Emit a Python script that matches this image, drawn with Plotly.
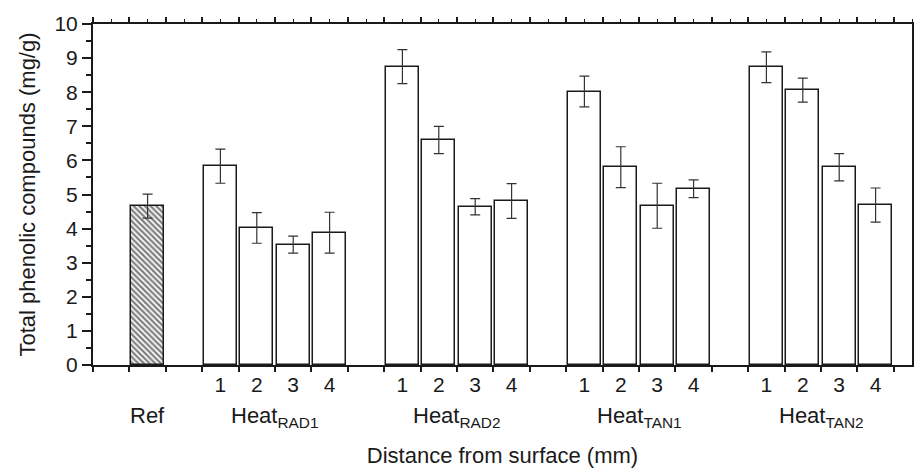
import plotly.graph_objects as go

GROUP_LABELS = ["Heat<sub>RAD1</sub>", "Heat<sub>RAD2</sub>", "Heat<sub>TAN1</sub>", "Heat<sub>TAN2</sub>"]
DISTANCES = ["1", "2", "3", "4"]

ref_value = 4.66
ref_error = 0.35

rad1_values = [5.83, 4.02, 3.53, 3.88]
rad1_errors = [0.50, 0.45, 0.25, 0.60]
rad2_values = [8.75, 6.60, 4.64, 4.81]
rad2_errors = [0.50, 0.40, 0.24, 0.51]
tan1_values = [8.02, 5.80, 4.67, 5.17]
tan1_errors = [0.45, 0.60, 0.66, 0.26]
tan2_values = [8.73, 8.06, 5.80, 4.69]
tan2_errors = [0.45, 0.35, 0.40, 0.50]

group_values = [rad1_values, rad2_values, tan1_values, tan2_values]
group_errors = [rad1_errors, rad2_errors, tan1_errors, tan2_errors]

FONT = "Liberation Sans, Arial, sans-serif"
INK = "#1a1a1a"

# slot layout: one empty slot, Ref, one empty slot, then groups of 4 separated by a slot
ref_x = 1.5
xs, ys, errs, tick_x, tick_text, centers = [], [], [], [], [], []
start = ref_x + 2
for vals, es in zip(group_values, group_errors):
    pos = [start + i for i in range(len(vals))]
    xs += pos
    ys += vals
    errs += es
    tick_x += pos
    tick_text += DISTANCES
    centers.append((pos[0] + pos[-1]) / 2)
    start = pos[-1] + 2
x_max = xs[-1] + 1

err_style = dict(type="data", thickness=1.2, width=5, color="#333")

fig = go.Figure()
fig.add_trace(go.Bar(
    x=[ref_x], y=[ref_value], width=0.9,
    error_y=dict(array=[ref_error], **err_style),
    marker=dict(color="white", line=dict(color=INK, width=1.5),
                pattern=dict(shape="\\", fgcolor="#000", bgcolor="white", size=4, solidity=0.55)),
    showlegend=False,
))
fig.add_trace(go.Bar(
    x=xs, y=ys, width=0.9,
    error_y=dict(array=errs, **err_style),
    marker=dict(color="white", line=dict(color=INK, width=1.5)),
    showlegend=False,
))
# dummy trace so the top tick axis is drawn
fig.add_trace(go.Scatter(x=[None], y=[None], xaxis="x2", showlegend=False, hoverinfo="skip"))

annotations = [dict(x=ref_x, y=0, xref="x", yref="paper", text="Ref", showarrow=False,
                    yanchor="top", yshift=-36, font=dict(size=22, color=INK, family=FONT))]
for c, lab in zip(centers, GROUP_LABELS):
    annotations.append(dict(x=c, y=0, xref="x", yref="paper", text=lab, showarrow=False,
                            yanchor="top", yshift=-36, font=dict(size=22, color=INK, family=FONT)))

# page body has an 8px margin, so the figure is 8px smaller than the window
fig.update_layout(
    width=914, height=460,
    margin=dict(l=85, r=10, t=16, b=103),
    plot_bgcolor="white", paper_bgcolor="white",
    font=dict(family=FONT, size=21, color=INK),
    bargap=0,
    annotations=annotations,
    xaxis=dict(
        range=[0, x_max], tickmode="array", tickvals=tick_x, ticktext=tick_text,
        ticks="", showgrid=False, zeroline=False, automargin=False,
        showline=True, linecolor=INK, linewidth=2,
        ticklabelstandoff=0,
        minor=dict(ticks="outside", tick0=0, dtick=1, ticklen=5, tickwidth=1.5, tickcolor=INK),
        title=dict(text="Distance from surface (mm)", font=dict(size=22), standoff=53),
    ),
    xaxis2=dict(
        range=[0, x_max], overlaying="x", side="top", anchor="y", automargin=False,
        showline=True, linecolor=INK, linewidth=2, showgrid=False, zeroline=False,
        showticklabels=False, ticks="outside", tick0=0, dtick=1, ticklen=5, tickwidth=1.5,
        tickcolor=INK,
        minor=dict(ticks="outside", dtick=0.5, ticklen=3, tickwidth=1, tickcolor=INK),
    ),
    yaxis=dict(
        range=[0, 10], tick0=0, dtick=1, ticks="outside", ticklen=9, tickwidth=1.5,
        tickcolor=INK, showgrid=False, zeroline=False, automargin=False,
        showline=True, linecolor=INK, linewidth=2, mirror="ticks",
        minor=dict(ticks="outside", dtick=0.5, ticklen=5, tickwidth=1.5, tickcolor=INK),
        title=dict(text="Total phenolic compounds (mg/g)", font=dict(size=22), standoff=13),
    ),
)

fig.write_html("out.html")
